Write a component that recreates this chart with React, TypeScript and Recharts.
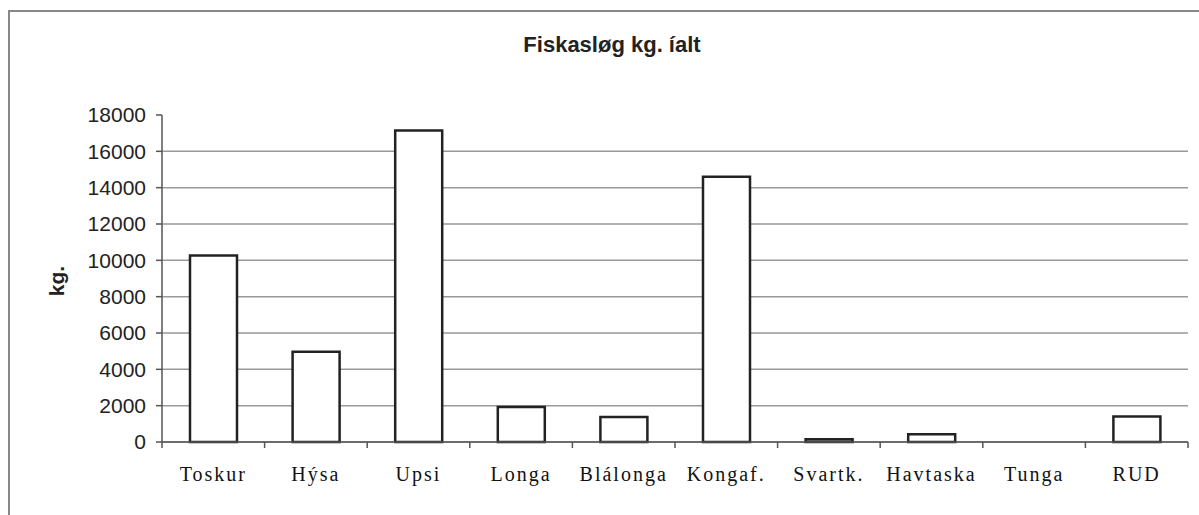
import { Bar, BarChart, CartesianGrid, XAxis, YAxis } from "recharts";

const categories = ["Toskur", "Hýsa", "Upsi", "Longa", "Blálonga", "Kongaf.", "Svartk.", "Havtaska", "Tunga", "RUD"];
const kgTotal = [10270, 4970, 17140, 1930, 1380, 14600, 150, 420, 0, 1400];
const yTicks = [0, 2000, 4000, 6000, 8000, 10000, 12000, 14000, 16000, 18000];
const gridValues = [0, 2000, 4000, 6000, 8000, 10000, 12000, 14000, 16000];

const data = categories.map((name, i) => ({ name, kg: kgTotal[i] }));

const W = 1199;
const H = 515;
const BAND = (1188 - 162) / categories.length;

function CategoryTick(props: any) {
  const { x, y, payload, index } = props;
  const last = index === categories.length - 1;
  return (
    <g>
      <line x1={x - BAND / 2} x2={x - BAND / 2} y1={y} y2={y + 6} stroke="#555" strokeWidth={1.5} />
      {last && <line x1={x + BAND / 2} x2={x + BAND / 2} y1={y} y2={y + 6} stroke="#555" strokeWidth={1.5} />}
      <text
        x={x}
        y={y + 39}
        textAnchor="middle"
        fontFamily="'Liberation Serif', 'Times New Roman', serif"
        fontSize={20}
        letterSpacing={2}
        fill="#111"
      >
        {payload.value}
      </text>
    </g>
  );
}

export default function App() {
  return (
    <div style={{ position: "absolute", left: 0, top: 0, width: W, height: H, background: "#fff" }}>
      <div
        style={{
          position: "absolute",
          left: 8,
          top: 10,
          right: 0,
          bottom: 0,
          borderTop: "2px solid #888",
          borderLeft: "2px solid #888",
        }}
      />
      <div
        style={{
          position: "absolute",
          left: 612,
          top: 32,
          transform: "translateX(-50%)",
          fontFamily: "'Liberation Sans', Arial, sans-serif",
          fontWeight: "bold",
          fontSize: 22,
          color: "#222",
          whiteSpace: "nowrap",
        }}
      >
        Fiskasløg kg. íalt
      </div>
      <div
        style={{
          position: "absolute",
          left: 57,
          top: 281,
          transform: "translate(-50%, -50%) rotate(-90deg)",
          fontFamily: "'Liberation Sans', Arial, sans-serif",
          fontWeight: "bold",
          fontSize: 21,
          color: "#222",
        }}
      >
        kg.
      </div>
      <div style={{ position: "absolute", left: 0, top: 0 }}>
        <BarChart width={W} height={H} data={data} margin={{ top: 115, right: 11, left: 82, bottom: 33 }}>
          <CartesianGrid vertical={false} horizontalValues={gridValues} stroke="#999" strokeWidth={1.5} />
          <XAxis
            dataKey="name"
            interval={0}
            height={40}
            tickLine={false}
            tickSize={0}
            tickMargin={0}
            axisLine={{ stroke: "#555", strokeWidth: 1.5 }}
            tick={<CategoryTick />}
          />
          <YAxis
            width={80}
            domain={[0, 18000]}
            ticks={yTicks}
            interval={0}
            tickSize={6}
            tickMargin={10}
            tickLine={{ stroke: "#555", strokeWidth: 1.5 }}
            axisLine={{ stroke: "#555", strokeWidth: 1.5 }}
            tick={{ fontFamily: "'Liberation Sans', Arial, sans-serif", fontSize: 21, fill: "#222" }}
          />
          <Bar dataKey="kg" fill="#fff" stroke="#222" strokeWidth={2.5} barSize={47} isAnimationActive={false} />
        </BarChart>
      </div>
    </div>
  );
}
